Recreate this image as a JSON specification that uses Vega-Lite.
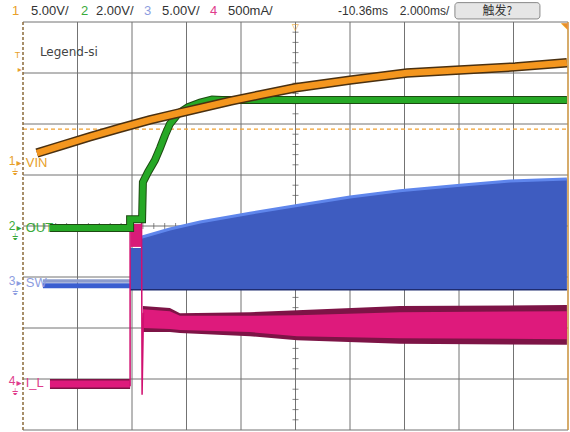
{
  "$schema": "https://vega.github.io/schema/vega-lite/v6.json",
  "width": 545,
  "height": 408,
  "autosize": "none",
  "padding": {"left": 23, "top": 22, "right": 2, "bottom": 2},
  "background": "white",
  "config": {"view": {"stroke": null}, "text": {"font": "Liberation Sans, sans-serif"}},
  "datasets": {
    "vgrid": [{"t":-8,"v":0,"v2":8},{"t":-6,"v":0,"v2":8},{"t":-4,"v":0,"v2":8},{"t":-2,"v":0,"v2":8},{"t":0,"v":0,"v2":8},{"t":2,"v":0,"v2":8},{"t":4,"v":0,"v2":8},{"t":6,"v":0,"v2":8},{"t":8,"v":0,"v2":8}],
    "hgrid": [{"t":-10,"t2":10,"v":0},{"t":-10,"t2":10,"v":1},{"t":-10,"t2":10,"v":2},{"t":-10,"t2":10,"v":3},{"t":-10,"t2":10,"v":4},{"t":-10,"t2":10,"v":5},{"t":-10,"t2":10,"v":6},{"t":-10,"t2":10,"v":7},{"t":-10,"t2":10,"v":8}],
    "vticks": [{"t":0,"v":0.2},{"t":0,"v":0.4},{"t":0,"v":0.6},{"t":0,"v":0.8},{"t":0,"v":1.2},{"t":0,"v":1.4},{"t":0,"v":1.6},{"t":0,"v":1.8},{"t":0,"v":2.2},{"t":0,"v":2.4},{"t":0,"v":2.6},{"t":0,"v":2.8},{"t":0,"v":3.2},{"t":0,"v":3.4},{"t":0,"v":3.6},{"t":0,"v":3.8},{"t":0,"v":4.2},{"t":0,"v":4.4},{"t":0,"v":4.6},{"t":0,"v":4.8},{"t":0,"v":5.2},{"t":0,"v":5.4},{"t":0,"v":5.6},{"t":0,"v":5.8},{"t":0,"v":6.2},{"t":0,"v":6.4},{"t":0,"v":6.6},{"t":0,"v":6.8},{"t":0,"v":7.2},{"t":0,"v":7.4},{"t":0,"v":7.6},{"t":0,"v":7.8}],
    "hticks": [{"t":-9.6,"v":4},{"t":-9.2,"v":4},{"t":-8.8,"v":4},{"t":-8.4,"v":4},{"t":-7.6,"v":4},{"t":-7.2,"v":4},{"t":-6.8,"v":4},{"t":-6.4,"v":4},{"t":-5.6,"v":4},{"t":-5.2,"v":4},{"t":-4.8,"v":4},{"t":-4.4,"v":4},{"t":-3.6,"v":4},{"t":-3.2,"v":4},{"t":-2.8,"v":4},{"t":-2.4,"v":4},{"t":-1.6,"v":4},{"t":-1.2,"v":4},{"t":-0.8,"v":4},{"t":-0.4,"v":4},{"t":0.4,"v":4},{"t":0.8,"v":4},{"t":1.2,"v":4},{"t":1.6,"v":4},{"t":2.4,"v":4},{"t":2.8,"v":4},{"t":3.2,"v":4},{"t":3.6,"v":4},{"t":4.4,"v":4},{"t":4.8,"v":4},{"t":5.2,"v":4},{"t":5.6,"v":4},{"t":6.4,"v":4},{"t":6.8,"v":4},{"t":7.2,"v":4},{"t":7.6,"v":4},{"t":8.4,"v":4},{"t":8.8,"v":4},{"t":9.2,"v":4},{"t":9.6,"v":4}],
    "vin": [{"t":-9.49,"v":5.43},{"t":-8.64,"v":5.57},{"t":-7.54,"v":5.75},{"t":-6.44,"v":5.92},{"t":-5.34,"v":6.08},{"t":-4.24,"v":6.22},{"t":-3.5,"v":6.31},{"t":-2.4,"v":6.45},{"t":-1.3,"v":6.57},{"t":0.0,"v":6.71},{"t":2.0,"v":6.86},{"t":4.09,"v":7.0},{"t":6.04,"v":7.06},{"t":8.06,"v":7.12},{"t":9.96,"v":7.2}],
    "out": [{"i":1,"t":-9.01,"v":3.96},{"i":2,"t":-6.07,"v":3.96},{"i":3,"t":-6.07,"v":4.13},{"i":4,"t":-5.63,"v":4.13},{"i":5,"t":-5.6,"v":4.86},{"i":6,"t":-5.41,"v":5.06},{"i":7,"t":-5.16,"v":5.29},{"i":8,"t":-4.97,"v":5.53},{"i":9,"t":-4.79,"v":5.78},{"i":10,"t":-4.61,"v":6.0},{"i":11,"t":-4.31,"v":6.2},{"i":12,"t":-3.94,"v":6.33},{"i":13,"t":-3.5,"v":6.42},{"i":14,"t":-3.06,"v":6.48},{"i":15,"t":-2.7,"v":6.47},{"i":16,"t":9.96,"v":6.47}],
    "sw": [{"t":-6.07,"v":3.57,"v2":2.75},{"t":-5.67,"v":3.57,"v2":2.75},{"t":-5.66,"v":3.78,"v2":2.75},{"t":-4.61,"v":3.94,"v2":2.75},{"t":-3.5,"v":4.08,"v2":2.75},{"t":-1.67,"v":4.25,"v2":2.75},{"t":0.17,"v":4.41,"v2":2.75},{"t":2.0,"v":4.57,"v2":2.75},{"t":3.83,"v":4.69,"v2":2.75},{"t":6.04,"v":4.8,"v2":2.75},{"t":7.87,"v":4.88,"v2":2.75},{"t":9.96,"v":4.92,"v2":2.75}],
    "swbot": [{"t":-6.07,"v":2.75},{"t":9.96,"v":2.75}],
    "ilouter": [{"t":-5.6,"v":2.43,"v2":1.92},{"t":-4.61,"v":2.39,"v2":1.92},{"t":-4.24,"v":2.29,"v2":1.9},{"t":-1.67,"v":2.31,"v2":1.84},{"t":0.06,"v":2.35,"v2":1.76},{"t":3.83,"v":2.43,"v2":1.69},{"t":9.96,"v":2.45,"v2":1.67}],
    "ilinner": [{"t":-5.6,"v":2.37,"v2":2.0},{"t":-4.61,"v":2.33,"v2":1.98},{"t":-4.24,"v":2.24,"v2":1.96},{"t":-1.67,"v":2.24,"v2":1.92},{"t":0.06,"v":2.25,"v2":1.84},{"t":3.83,"v":2.31,"v2":1.8},{"t":9.96,"v":2.33,"v2":1.78}],
    "spike": [{"i":1,"t":-6.07,"v":0.86},{"i":2,"t":-6.07,"v":4.16},{"i":3,"t":-5.65,"v":4.16},{"i":4,"t":-5.63,"v":0.69},{"i":5,"t":-5.58,"v":2.3}],
    "header": [{"t":-10.4,"v":8.22,"txt":"1","ch":"1","sz":"a"},{"t":-9.71,"v":8.22,"txt":"5.00V/","ch":"k","sz":"a"},{"t":-7.87,"v":8.22,"txt":"2","ch":"2","sz":"a"},{"t":-7.32,"v":8.22,"txt":"2.00V/","ch":"k","sz":"a"},{"t":-5.56,"v":8.22,"txt":"3","ch":"3","sz":"a"},{"t":-4.9,"v":8.22,"txt":"5.00V/","ch":"k","sz":"a"},{"t":-3.14,"v":8.22,"txt":"4","ch":"4","sz":"a"},{"t":-2.48,"v":8.22,"txt":"500mA/","ch":"k","sz":"a"},{"t":1.56,"v":8.22,"txt":"-10.36ms","ch":"k","sz":"b"},{"t":3.83,"v":8.22,"txt":"2.000ms/","ch":"k","sz":"b"}],
    "labels": [
      {"kind":"num","ch":"1","txt":"1","t":-10.4,"v":5.28},{"kind":"arr","ch":"1","txt":"▸","t":-10.15,"v":5.24},{"kind":"gnd","ch":"1","txt":"⏚","t":-10.3,"v":5.06},{"kind":"name","ch":"1","txt":"VIN","t":-9.9,"v":5.24},
      {"kind":"num","ch":"2","txt":"2","t":-10.4,"v":4.0},{"kind":"arr","ch":"2","txt":"▸","t":-10.15,"v":3.96},{"kind":"gnd","ch":"2","txt":"⏚","t":-10.3,"v":3.78},{"kind":"name","ch":"2","txt":"OUT","t":-9.9,"v":3.96},
      {"kind":"num","ch":"3","txt":"3","t":-10.4,"v":2.92},{"kind":"arr","ch":"3","txt":"▸","t":-10.15,"v":2.88},{"kind":"gnd","ch":"3","txt":"⏚","t":-10.3,"v":2.7},{"kind":"name","ch":"3","txt":"SW","t":-9.9,"v":2.88},
      {"kind":"num","ch":"4","txt":"4","t":-10.4,"v":0.96},{"kind":"arr","ch":"4","txt":"▸","t":-10.15,"v":0.92},{"kind":"gnd","ch":"4","txt":"⏚","t":-10.3,"v":0.74},{"kind":"name","ch":"4","txt":"I_L","t":-9.9,"v":0.92}
    ],
    "trig": [{"kind":"T","t":-10.2,"v":7.36,"txt":"T"},{"kind":"arr","t":-10.12,"v":7.06,"txt":"▸"}],
    "notes": [{"t":-9.38,"v":7.41,"txt":"Legend-si"}],
    "button": [{"t":5.85,"t2":8.97,"v":8.38,"v2":8.06}],
    "buttontext": [{"t":7.41,"v":8.22,"txt":"触发?"}],
    "markers": [{"t":0,"v":8,"txt":"▽"},{"t":10,"v":8,"txt":"◥"}]
  },
  "encoding": {
    "x": {"field": "t", "type": "quantitative", "scale": {"domain": [-10, 10], "nice": false, "zero": false}, "axis": null},
    "y": {"field": "v", "type": "quantitative", "scale": {"domain": [0, 8], "nice": false, "zero": false}, "axis": null}
  },
  "layer": [
    {"data": {"name": "vgrid"}, "mark": {"type": "rule", "color": "#737373", "strokeWidth": 1}, "encoding": {"y2": {"field": "v2"}}},
    {"data": {"name": "hgrid"}, "mark": {"type": "rule", "color": "#737373", "strokeWidth": 1}, "encoding": {"x2": {"field": "t2"}}},
    {"data": {"values": [{"t": -10, "v": 5.9}, {"t": 10, "v": 5.9}]}, "mark": {"type": "line", "color": "#f0a030", "strokeWidth": 1.2, "strokeDash": [4, 3]}},
    {"data": {"name": "vticks"}, "mark": {"type": "tick", "orient": "horizontal", "size": 6, "thickness": 1, "color": "#555555"}},
    {"data": {"name": "hticks"}, "mark": {"type": "tick", "orient": "vertical", "size": 6, "thickness": 1, "color": "#555555"}},
    {"data": {"values": [{"t": -10, "v": 0}, {"t": -10, "v": 8}]}, "mark": {"type": "line", "color": "#8a6a3a", "strokeWidth": 1.5, "strokeDash": [3, 2]}},
    {"data": {"values": [{"t": 10, "v": 0}, {"t": 10, "v": 8}]}, "mark": {"type": "line", "color": "#c8903a", "strokeWidth": 1.5}},
    {"data": {"name": "sw"}, "mark": {"type": "area", "color": "#3e5cc0", "opacity": 1}, "encoding": {"y2": {"field": "v2"}}},
    {"data": {"name": "sw"}, "transform": [{"filter": "datum.t > -5.665"}], "mark": {"type": "line", "color": "#5f86ec", "strokeWidth": 3}},
    {"data": {"name": "swbot"}, "mark": {"type": "line", "color": "#1e2c70", "strokeWidth": 1.5}},
    {"data": {"values": [{"t": -9.27, "v": 2.83}, {"t": -6.07, "v": 2.83}]}, "mark": {"type": "line", "color": "#3a5ed0", "strokeWidth": 5}},
    {"data": {"values": [{"t": -9.27, "v": 2.92}, {"t": -6.07, "v": 2.92}]}, "mark": {"type": "line", "color": "#8d9ccc", "strokeWidth": 3.5}},
    {"data": {"name": "ilouter"}, "mark": {"type": "area", "color": "#7d1446", "opacity": 1}, "encoding": {"y2": {"field": "v2"}}},
    {"data": {"name": "ilinner"}, "mark": {"type": "area", "color": "#de1a7c", "opacity": 1}, "encoding": {"y2": {"field": "v2"}}},
    {"data": {"values": [{"t": -9.01, "v": 0.9}, {"t": -6.07, "v": 0.9}]}, "mark": {"type": "line", "color": "#7d1446", "strokeWidth": 10}},
    {"data": {"values": [{"t": -9.01, "v": 0.9}, {"t": -6.07, "v": 0.9}]}, "mark": {"type": "line", "color": "#de1a7c", "strokeWidth": 7}},
    {"data": {"name": "spike"}, "mark": {"type": "line", "color": "#d01070", "strokeWidth": 1.5}, "encoding": {"order": {"field": "i", "type": "quantitative"}}},
    {"data": {"values": [{"t": -6.05, "t2": -5.66, "v": 4.04, "v2": 3.59}]}, "mark": {"type": "rect", "color": "#d81b78"}, "encoding": {"x2": {"field": "t2"}, "y2": {"field": "v2"}}},
    {"data": {"name": "out"}, "mark": {"type": "line", "color": "#1d4a12", "strokeWidth": 8}, "encoding": {"order": {"field": "i", "type": "quantitative"}}},
    {"data": {"name": "out"}, "mark": {"type": "line", "color": "#26a826", "strokeWidth": 6}, "encoding": {"order": {"field": "i", "type": "quantitative"}}},
    {"data": {"name": "vin"}, "mark": {"type": "line", "color": "#4a3010", "strokeWidth": 9.5}},
    {"data": {"name": "vin"}, "mark": {"type": "line", "color": "#f4961e", "strokeWidth": 6.5}},
    {"data": {"name": "header"}, "transform": [{"filter": "datum.sz == 'a'"}], "mark": {"type": "text", "align": "left", "baseline": "middle", "fontSize": 13},
      "encoding": {"text": {"field": "txt"},
        "color": {"field": "ch", "type": "nominal", "scale": {"domain": ["1", "2", "3", "4", "k"], "range": ["#e8a02a", "#3aaa3a", "#8d9de0", "#e03c8c", "#333333"]}, "legend": null}}},
    {"data": {"name": "header"}, "transform": [{"filter": "datum.sz == 'b'"}], "mark": {"type": "text", "align": "left", "baseline": "middle", "fontSize": 12},
      "encoding": {"text": {"field": "txt"}, "color": {"field": "ch", "type": "nominal", "legend": null}}},
    {"data": {"name": "button"}, "mark": {"type": "rect", "cornerRadius": 3, "fill": "#e6e6e6", "stroke": "#8a8a8a", "strokeWidth": 1},
      "encoding": {"x2": {"field": "t2"}, "y2": {"field": "v2"}}},
    {"data": {"name": "buttontext"}, "mark": {"type": "text", "font": "Noto Sans CJK SC", "fontSize": 12, "color": "#333333", "align": "center", "baseline": "middle"},
      "encoding": {"text": {"field": "txt"}}},
    {"data": {"name": "notes"}, "mark": {"type": "text", "font": "DejaVu Sans", "fontSize": 12, "color": "#444444", "align": "left", "baseline": "middle"},
      "encoding": {"text": {"field": "txt"}}},
    {"data": {"name": "trig"}, "transform": [{"filter": "datum.kind == 'T'"}], "mark": {"type": "text", "fontSize": 9, "color": "#e8a02a", "align": "center", "baseline": "middle"},
      "encoding": {"text": {"field": "txt"}}},
    {"data": {"name": "trig"}, "transform": [{"filter": "datum.kind == 'arr'"}], "mark": {"type": "text", "font": "DejaVu Sans", "fontSize": 8, "color": "#e8a02a", "align": "center", "baseline": "middle"},
      "encoding": {"text": {"field": "txt"}}},
    {"data": {"name": "markers"}, "transform": [{"filter": "datum.t < 5"}], "mark": {"type": "text", "font": "DejaVu Sans", "fontSize": 9, "color": "#e8a02a", "align": "center", "baseline": "top", "dy": 1},
      "encoding": {"text": {"field": "txt"}}},
    {"data": {"name": "markers"}, "transform": [{"filter": "datum.t > 5"}], "mark": {"type": "text", "font": "DejaVu Sans", "fontSize": 9, "color": "#e8902a", "align": "right", "baseline": "top"},
      "encoding": {"text": {"field": "txt"}}},
    {"data": {"name": "labels"}, "transform": [{"filter": "datum.kind == 'num'"}], "mark": {"type": "text", "align": "center", "baseline": "middle", "fontSize": 12},
      "encoding": {"text": {"field": "txt"}, "color": {"field": "ch", "type": "nominal", "legend": null}}},
    {"data": {"name": "labels"}, "transform": [{"filter": "datum.kind == 'arr'"}], "mark": {"type": "text", "align": "center", "baseline": "middle", "fontSize": 10, "font": "DejaVu Sans"},
      "encoding": {"text": {"field": "txt"}, "color": {"field": "ch", "type": "nominal", "legend": null}}},
    {"data": {"name": "labels"}, "transform": [{"filter": "datum.kind == 'gnd'"}], "mark": {"type": "text", "align": "center", "baseline": "middle", "fontSize": 9, "font": "DejaVu Sans"},
      "encoding": {"text": {"field": "txt"}, "color": {"field": "ch", "type": "nominal", "legend": null}}},
    {"data": {"name": "labels"}, "transform": [{"filter": "datum.kind == 'name'"}], "mark": {"type": "text", "align": "left", "baseline": "middle", "fontSize": 13},
      "encoding": {"text": {"field": "txt"}, "color": {"field": "ch", "type": "nominal", "legend": null}}}
  ]
}
